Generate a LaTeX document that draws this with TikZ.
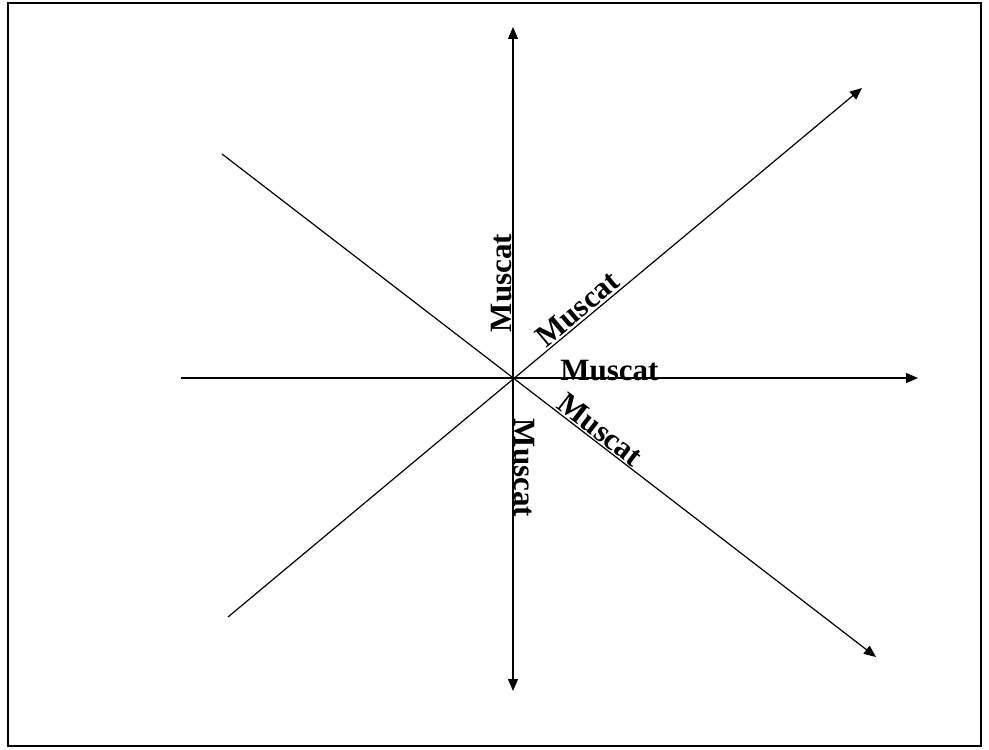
\documentclass[tikz,border=0pt]{standalone}
\usepackage{fontspec}
\setmainfont{Liberation Serif}
\usetikzlibrary{arrows.meta}

\begin{document}
\begin{tikzpicture}[x=0.5pt, y=-0.5pt,
    axe/.style={line width=0.6pt, -{Triangle[length=6pt, width=5pt]}},
    axe2/.style={line width=0.6pt, {Triangle[length=6pt, width=5pt]}-{Triangle[length=6pt, width=5pt]}},
    lbl/.style={font=\fontsize{15.5}{15.5}\selectfont\bfseries, inner sep=0.5pt}]
  \useasboundingbox (0,0) rectangle (989,749);
  \draw[line width=1pt] (8,3) rectangle (981,746);

  \coordinate (orig) at (513,378);
  \coordinate (haut) at (513,27);
  \coordinate (bas) at (513,691);
  \coordinate (gauche) at (181,378);
  \coordinate (droite) at (918,378);
  \coordinate (so) at (228,617);
  \coordinate (ne) at (862,88);
  \coordinate (no) at (222,154);
  \coordinate (se) at (876,657);

  \draw[axe2] (haut) -- (bas);
  \draw[axe] (gauche) -- (droite);
  \draw[axe] (so) -- (ne);
  \draw[axe] (no) -- (se);

  \node[lbl, rotate=90, anchor=south] (m1) at (513,283) {Muscat};
  \node[lbl, rotate=40, anchor=south] (m2) at (585,318) {Muscat};
  \node[lbl, anchor=base west] (m3) at (559,380) {Muscat};
  \node[lbl, rotate=-37.5, anchor=south] (m4) at (593,439) {Muscat};
  \node[lbl, rotate=-90, anchor=south] (m5) at (513,468) {Muscat};
\end{tikzpicture}
\end{document}
